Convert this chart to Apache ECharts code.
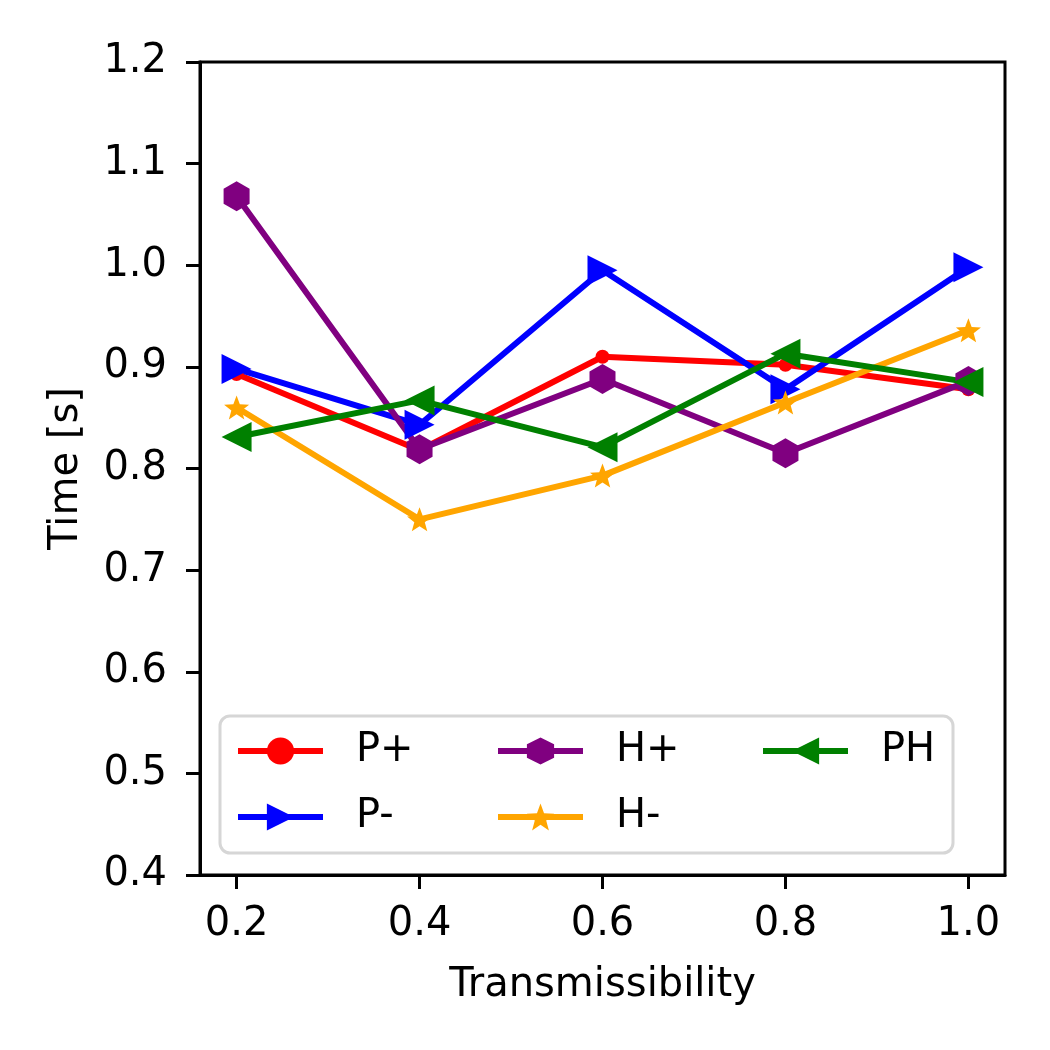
<!DOCTYPE html>
<html>
<head>
<meta charset="utf-8">
<script src="https://cdn.jsdelivr.net/npm/echarts@6/dist/echarts.min.js"></script>
<style>
  html, body { margin: 0; padding: 0; background: #fff; }
  #chart { width: 1050px; height: 1050px; }
</style>
</head>
<body>
<div id="chart"></div>
<script>
// transmissibility values on the x axis
const transmissibility = [0.2, 0.4, 0.6, 0.8, 1.0]
const xTicks = [0.2, 0.4, 0.6, 0.8, 1.0]

// time [s] per strategy
const pPlus = [0.893, 0.818, 0.910, 0.902, 0.878]
const pMinus = [0.898, 0.843, 0.995, 0.878, 0.998]
const hPlus = [1.068, 0.819, 0.888, 0.815, 0.886]
const hMinus = [0.860, 0.750, 0.793, 0.865, 0.936]
const ph = [0.831, 0.867, 0.821, 0.913, 0.885]

const FONT = 'DejaVu Sans'

// marker shapes like matplotlib
const triRight = 'path://M0,0 L2,1 L0,2 Z'
const triLeft = 'path://M2,0 L0,1 L2,2 Z'
const hexagon = 'path://M0,-1 L0.866,-0.5 L0.866,0.5 L0,1 L-0.866,0.5 L-0.866,-0.5 Z'
function starPath() {
  let d = ''
  for (let i = 0; i < 10; i++) {
    const r = i % 2 === 0 ? 1 : 0.42
    const a = -Math.PI / 2 + i * Math.PI / 5
    d += (i === 0 ? 'M' : 'L') + (r * Math.cos(a)).toFixed(3) + ',' + (r * Math.sin(a)).toFixed(3) + ' '
  }
  return 'path://' + d + 'Z'
}

function pairs(ys) {
  return transmissibility.map((x, i) => [x, ys[i]])
}

function makeSeries(name, ys, color, symbol, size) {
  return {
    name: name,
    type: 'line',
    data: pairs(ys),
    symbol: symbol,
    symbolSize: size,
    showAllSymbol: true,
    lineStyle: { color: color, width: 6 },
    itemStyle: { color: color, borderWidth: 0 },
    emphasis: { disabled: true },
    animation: false
  }
}

const legendText = { fontFamily: FONT, fontSize: 40, color: '#000', padding: [0, 0, 0, 28] }
function makeLegend(names, left) {
  return {
    data: names,
    orient: 'vertical',
    left: left,
    top: 726,
    itemWidth: 85,
    itemHeight: 34,
    itemGap: 26,
    selectedMode: false,
    lineStyle: { width: 6 },
    textStyle: legendText
  }
}

const chart = echarts.init(document.getElementById('chart'))
chart.setOption({
  backgroundColor: '#fff',
  animation: false,
  grid: {
    left: 200, right: 45, top: 62, bottom: 175,
    show: true, borderColor: '#000', borderWidth: 3
  },
  xAxis: {
    type: 'value',
    min: 0.16,
    max: 1.04,
    name: 'Transmissibility',
    nameLocation: 'middle',
    nameGap: 91,
    nameTextStyle: { fontFamily: FONT, fontSize: 40, color: '#000' },
    axisLine: { lineStyle: { color: '#000', width: 3 } },
    axisTick: { customValues: xTicks, length: 14, lineStyle: { color: '#000', width: 3 } },
    axisLabel: {
      customValues: xTicks,
      margin: 30,
      fontFamily: FONT, fontSize: 40, color: '#000',
      formatter: v => v.toFixed(1)
    },
    splitLine: { show: false }
  },
  yAxis: {
    type: 'value',
    min: 0.4,
    max: 1.2,
    interval: 0.1,
    name: 'Time [s]',
    nameLocation: 'middle',
    nameRotate: 90,
    nameGap: 113,
    nameTextStyle: { fontFamily: FONT, fontSize: 40, color: '#000' },
    axisLine: { show: true, lineStyle: { color: '#000', width: 3 } },
    axisTick: { show: true, length: 14, lineStyle: { color: '#000', width: 3 } },
    axisLabel: {
      margin: 33,
      fontFamily: FONT, fontSize: 40, color: '#000',
      formatter: v => v.toFixed(1)
    },
    splitLine: { show: false }
  },
  legend: [
    makeLegend(['P+', 'P-'], 230),
    makeLegend(['H+', 'H-'], 490),
    makeLegend(['PH'], 755)
  ],
  graphic: [{
    type: 'rect',
    z: 3,
    shape: { x: 220, y: 716, width: 733, height: 137, r: 10 },
    style: { fill: 'rgba(255,255,255,0.8)', stroke: '#d6d6d6', lineWidth: 3 }
  }],
  series: [
    makeSeries('P+', pPlus, '#ff0000', 'circle', 14),
    makeSeries('P-', pMinus, '#0000ff', triRight, [30, 30]),
    makeSeries('H+', hPlus, '#800080', hexagon, [26, 30]),
    makeSeries('H-', hMinus, '#ffa500', starPath(), [25, 24]),
    makeSeries('PH', ph, '#008000', triLeft, [30, 30])
  ]
})
</script>
</body>
</html>
